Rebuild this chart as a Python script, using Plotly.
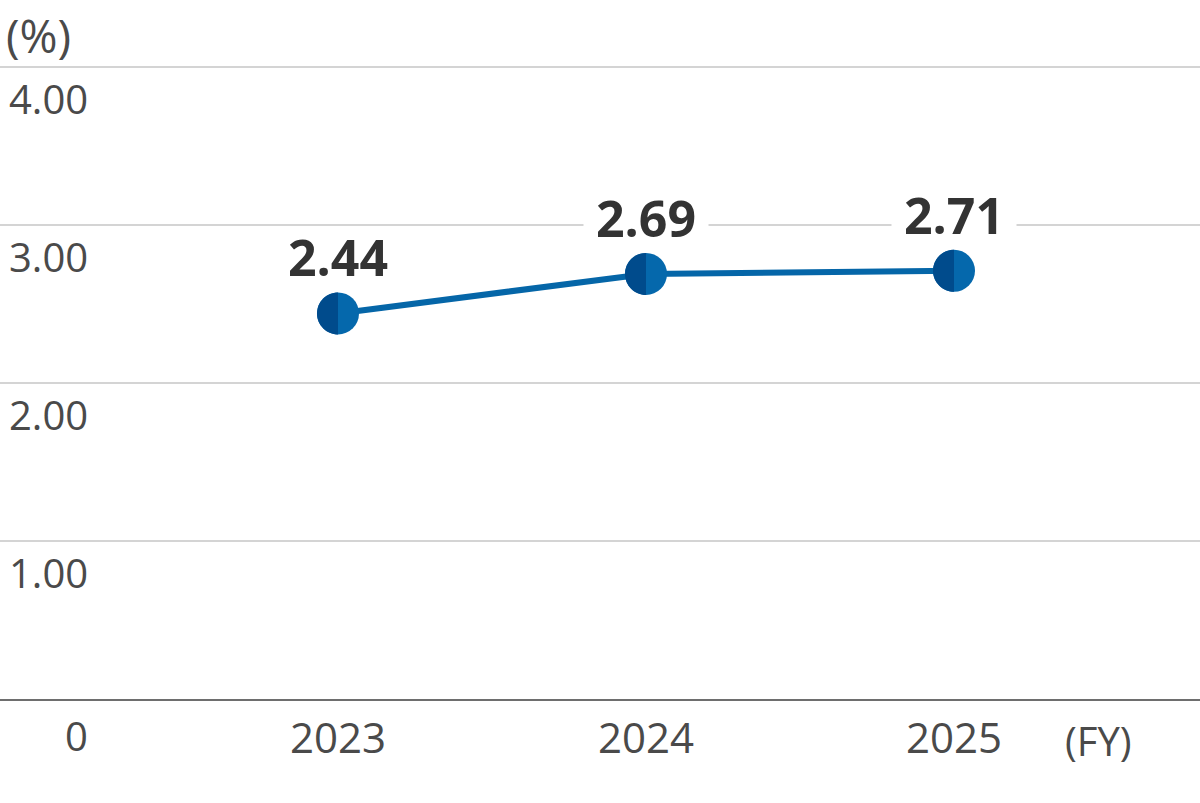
import plotly.graph_objects as go

# ---- data ----
years = ["2023", "2024", "2025"]
values = [2.44, 2.69, 2.71]
value_labels = ["2.44", "2.69", "2.71"]
y_ticks = [0, 1, 2, 3, 4]
y_tick_labels = ["0", "1.00", "2.00", "3.00", "4.00"]

# ---- styles ----
LINE_COLOR = "#0566A8"
DARK_HALF = "#004B8C"
LIGHT_HALF = "#0568AC"
TEXT_GRAY = "#4a4a4a"
FONT = "Open Sans, Noto Sans, sans-serif"

W, H = 1200, 803
x_idx = list(range(len(years)))

fig = go.Figure()

fig.add_trace(go.Scatter(
    x=x_idx, y=values, mode="lines+markers",
    line=dict(color=LINE_COLOR, width=6),
    marker=dict(size=42, color=LIGHT_HALF, line=dict(width=0)),
    hoverinfo="skip", showlegend=False,
))

# left (dark) half of each marker, anchored to data point
r = 21
k = 0.5523 * r
half_path = (f"M0,{r} C{-k},{r} {-r},{k} {-r},0 "
             f"C{-r},{-k} {-k},{-r} 0,{-r} Z")
for xi, v in zip(x_idx, values):
    fig.add_shape(type="path", xref="x", yref="y",
                  xsizemode="pixel", ysizemode="pixel",
                  xanchor=xi, yanchor=v, path=half_path,
                  fillcolor=DARK_HALF, line=dict(width=0), layer="above")

# value labels (white box hides the gridline behind the text)
for xi, v, t in zip(x_idx, values, value_labels):
    fig.add_annotation(x=xi, y=v, xref="x", yref="y", text=f"<b>{t}</b>",
                       showarrow=False, yshift=56, bgcolor="white",
                       borderpad=0, width=124, height=44,
                       font=dict(family=FONT, size=50, color="#333333"))

# y tick labels (below each gridline, right aligned)
for yv, t in zip(y_ticks, y_tick_labels):
    fig.add_annotation(x=90 / W, xref="paper", y=yv, yref="y", text=t,
                       showarrow=False, xanchor="right", yanchor="middle",
                       yshift=-32 if yv > 0 else -36,
                       font=dict(family=FONT, size=40, color=TEXT_GRAY))

# unit labels
fig.add_annotation(x=4 / W, xref="paper", y=4, yref="y", text="(%)",
                   showarrow=False, xanchor="left", yanchor="middle",
                   yshift=32, font=dict(family=FONT, size=46, color=TEXT_GRAY))
fig.add_annotation(x=1098 / W, xref="paper", y=0, yref="y", text="(FY)",
                   showarrow=False, xanchor="center", yanchor="middle",
                   yshift=-41, font=dict(family=FONT, size=40, color=TEXT_GRAY))

px_per_unit = 308
x0 = -338 / px_per_unit
x1 = (W - 338) / px_per_unit

fig.update_layout(
    width=W, height=H,
    margin=dict(l=0, r=0, t=59, b=104),
    paper_bgcolor="white", plot_bgcolor="white",
    xaxis=dict(range=[x0, x1], tickvals=x_idx, ticktext=years,
               showgrid=False, zeroline=False,
               showline=True, linecolor="#6e6e6e", linewidth=2,
               ticks="", ticklabelstandoff=2, fixedrange=True,
               tickfont=dict(family=FONT, size=42, color=TEXT_GRAY)),
    yaxis=dict(range=[0, 4.05], tickvals=y_ticks[1:], showticklabels=False,
               showgrid=True, gridcolor="#d4d4d4", gridwidth=2,
               zeroline=False, showline=False, ticks="", fixedrange=True),
)

fig.write_html("out.html",
               config={"displayModeBar": False},
               post_script="document.body.style.margin='0px';"
                           "document.body.style.overflow='hidden';")
